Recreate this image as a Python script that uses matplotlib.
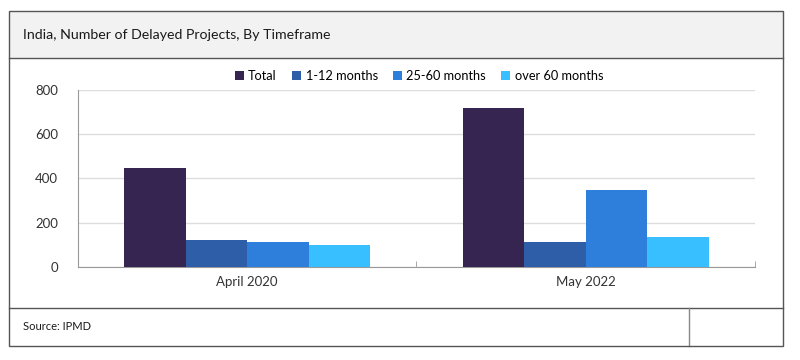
import matplotlib
matplotlib.use("Agg")
import matplotlib.pyplot as plt
from matplotlib.patches import Rectangle
import numpy as np

categories = ["April 2020", "May 2022"]
series_names = ["Total", "1-12 months", "25-60 months", "over 60 months"]
total = [445, 719]
m1_12 = [122, 110]
m25_60 = [113, 349]
over60 = [100, 135]
colors = ["#362451", "#2F5EA8", "#2E7FDB", "#38BFFF"]
yticks = [0, 200, 400, 600, 800]
title = "India, Number of Delayed Projects, By Timeframe"
source = "Source: IPMD"

plt.rcParams['font.family'] = ['Lato', 'DejaVu Sans']

W, H = 800, 360
fig = plt.figure(figsize=(8, 3.6), dpi=100)

def fx(px):
    return px / W

def fy(py):
    return 1 - py / H

# frame and header
border = "#555555"
fig.patches.append(Rectangle((fx(9), fy(58)), fx(783) - fx(9), fy(11) - fy(58),
                             transform=fig.transFigure, facecolor="#F2F2F2",
                             edgecolor="none", zorder=0))
fig.patches.append(Rectangle((fx(9), fy(346)), fx(783) - fx(9), fy(11) - fy(346),
                             transform=fig.transFigure, facecolor="none",
                             edgecolor=border, lw=1, zorder=5))
fig.add_artist(plt.Line2D([fx(9), fx(783)], [fy(58), fy(58)], transform=fig.transFigure,
                          color=border, lw=1))
fig.add_artist(plt.Line2D([fx(9), fx(783)], [fy(308), fy(308)], transform=fig.transFigure,
                          color=border, lw=1))
fig.add_artist(plt.Line2D([fx(689), fx(689)], [fy(308), fy(346)], transform=fig.transFigure,
                          color="#888888", lw=1))

fig.text(fx(23), fy(35), title, fontsize=10.2, va="center", ha="left", color="#1a1a1a")
fig.text(fx(23), fy(326), source, fontsize=8, va="center", ha="left", color="#1a1a1a")

ax = fig.add_axes([fx(77.7), fy(266.7), fx(755) - fx(77.7), fy(90) - fy(266.7)])
x = np.arange(len(categories))
width = 0.1816
data = [total, m1_12, m25_60, over60]
for i, (vals, name, c) in enumerate(zip(data, series_names, colors)):
    ax.bar(x + (i - 1.5) * width, vals, width=width, color=c, label=name, zorder=3)

ax.set_xlim(-0.5, 1.5)
ax.set_ylim(0, 800)
ax.set_yticks(yticks)
ax.set_yticklabels([str(v) for v in yticks])
ax.set_xticks(x)
ax.set_xticklabels(categories)
ax.tick_params(axis="x", length=0, labelsize=9.5, pad=7, colors="#333333")
ax.tick_params(axis="y", length=0, labelsize=9.5, pad=14, colors="#333333")
ax.set_xticks([-0.5, 0.5, 1.5], minor=True)
ax.tick_params(axis="x", which="minor", direction="in", length=4, color="#999999")
ax.grid(axis="y", color="#DDDDDD", lw=1, zorder=0)
for s in ["top", "right"]:
    ax.spines[s].set_visible(False)
ax.spines["left"].set_color("#999999")
ax.spines["bottom"].set_color("#999999")

ax.legend(loc="center", bbox_to_anchor=(fx(419), fy(76)), bbox_transform=fig.transFigure,
          ncol=4, frameon=False, fontsize=9.2, handlelength=0.7, handleheight=0.7,
          handletextpad=0.35, columnspacing=1.2)

fig.savefig("out.png", dpi=100)
